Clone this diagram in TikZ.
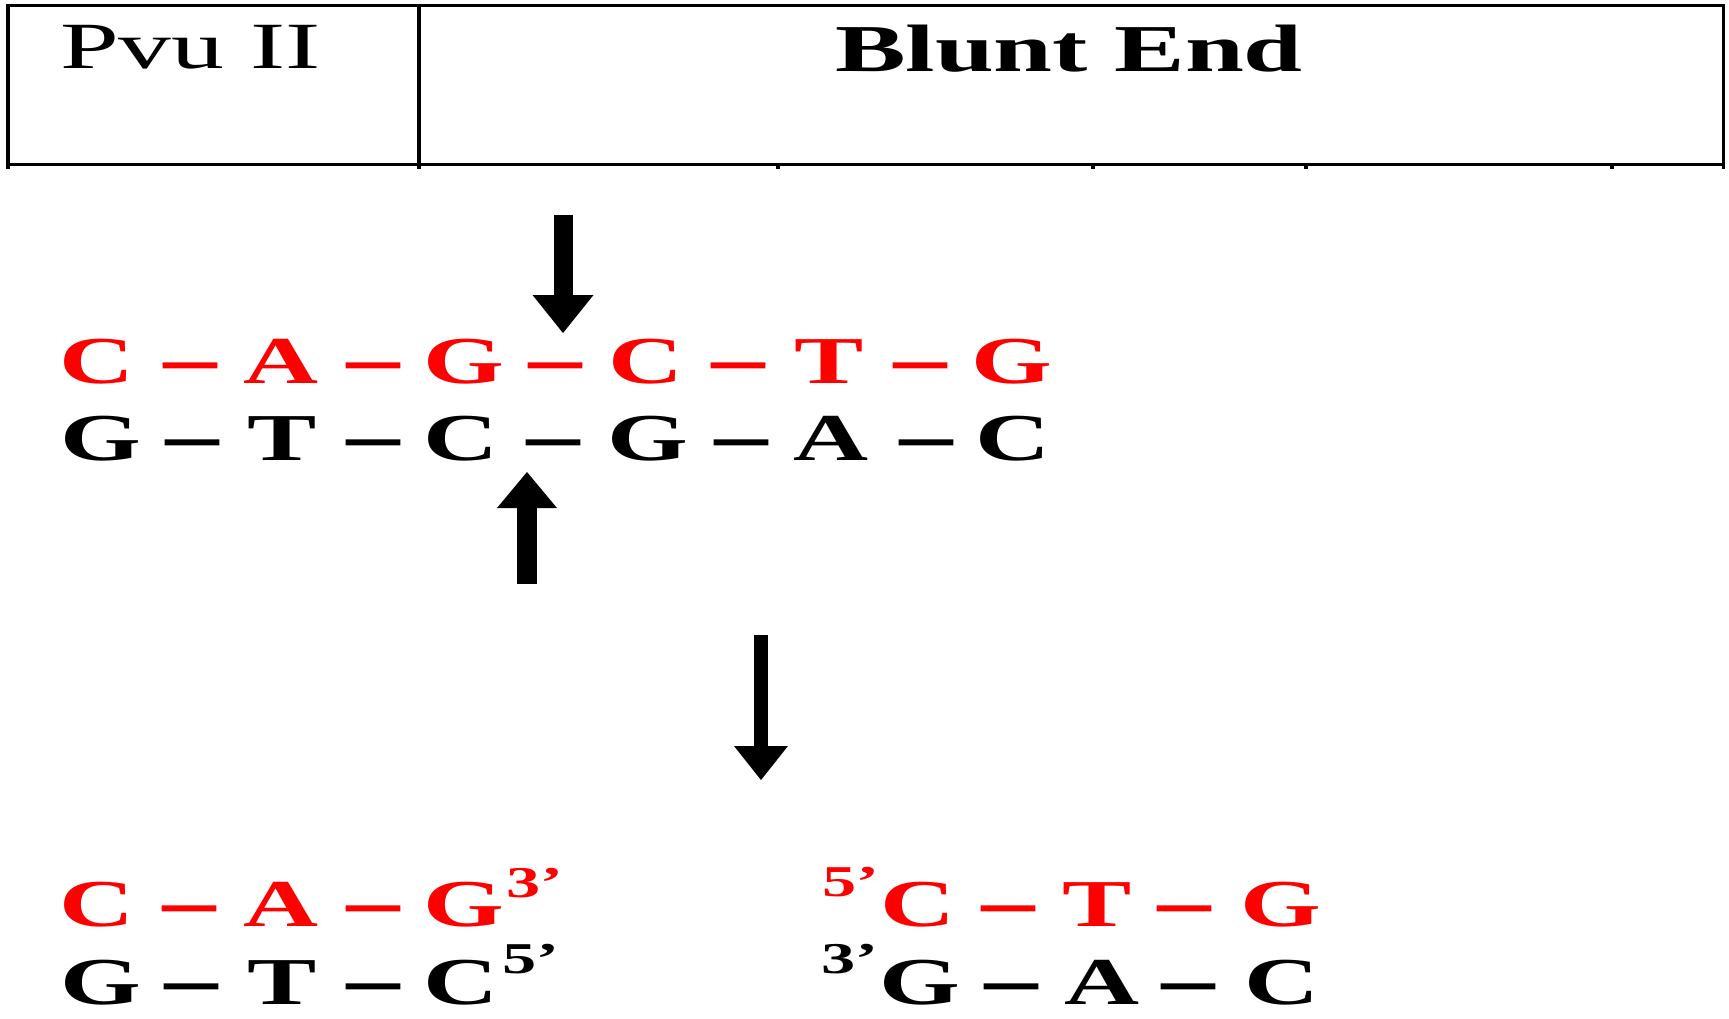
\documentclass[tikz,border=0pt]{standalone}
\usepackage{fontspec}
\setmainfont{Liberation Serif}
\newfontfamily\hdfont[FakeStretch=1.6]{Liberation Serif}
\newfontfamily\hdbfont[FakeStretch=1.58]{Liberation Serif}
\newfontfamily\seqfont[FakeStretch=1.55]{Liberation Serif}
\newfontfamily\dashfont[FakeStretch=1.55,FakeBold=2]{Liberation Serif}
\usetikzlibrary{calc}
\definecolor{seqred}{RGB}{255,0,0}
\begin{document}
\begin{tikzpicture}[x=1pt,y=-1pt,
  tbl/.style={line width=3.5pt},
  hd/.style={inner sep=0pt, font=\hdfont\fontsize{66}{66}\selectfont},
  hdb/.style={inner sep=0pt, font=\hdbfont\bfseries\fontsize{67}{67}\selectfont},
  seq/.style={inner sep=0pt, anchor=base, font=\seqfont\bfseries\fontsize{67}{67}\selectfont},
  rs/.style={seq, text=seqred},
  bs/.style={seq, text=black},
  dsh/.style={inner sep=0pt, anchor=base, font=\dashfont\bfseries\fontsize{67}{67}\selectfont},
  rdash/.style={dsh, text=seqred},
  bdash/.style={dsh, text=black},
  supsc/.style={inner sep=0pt, anchor=base west, font=\seqfont\bfseries\fontsize{44}{44}\selectfont},
  rsup/.style={supsc, text=seqred},
  bsup/.style={supsc, text=black},
]
\useasboundingbox (0,0) rectangle (1729,1018);

% header table
\draw[tbl] (8,5.5) rectangle (1723.5,164.5);
\draw[tbl] (419,5.5) -- (419,169);
\foreach \x in {8,778,1093,1306,1612,1723.5} \draw[tbl] (\x,164.5) -- (\x,169);
\node[hd, anchor=base west] (enz) at (60,68) {Pvu II};
\node[hdb, anchor=base] (typ) at (1069,71) {Blunt End};

% top double strand
\foreach \x/\t/\n in {97/C/r1,281/A/r2,464/G/r3,646/C/r4,829/T/r5,1012/G/r6}
  \node[rs] (\n) at (\x,383) {\t};
\foreach \x/\n in {190/rd1,373/rd2,555/rd3,738/rd4,920/rd5}
  \node[rdash] (\n) at (\x,381) {–};
\foreach \x/\t/\n in {101/G/b1,282/T/b2,461/C/b3,648/G/b4,831/A/b5,1013/C/b6}
  \node[bs] (\n) at (\x,460) {\t};
\foreach \x/\n in {192/bd1,373/bd2,553/bd3,741/bd4,926/bd5}
  \node[bdash] (\n) at (\x,458) {–};

% cut arrows
\coordinate (a1s) at (563,215); \coordinate (a1b) at (563,295); \coordinate (a1t) at (563,333);
\draw[line width=19pt] (a1s) -- ($(a1b)+(0,1)$);
\fill ($(a1b)+(-30.5,0)$) -- (a1t) -- ($(a1b)+(30.5,0)$) -- cycle;

\coordinate (a2s) at (527,584); \coordinate (a2b) at (527,508); \coordinate (a2t) at (527,472);
\draw[line width=20pt] (a2s) -- ($(a2b)+(0,-1)$);
\fill ($(a2b)+(-30,0)$) -- (a2t) -- ($(a2b)+(30,0)$) -- cycle;

\coordinate (a3s) at (761,635); \coordinate (a3b) at (761,746); \coordinate (a3t) at (761,780);
\draw[line width=14pt] (a3s) -- ($(a3b)+(0,1)$);
\fill ($(a3b)+(-27,0)$) -- (a3t) -- ($(a3b)+(27,0)$) -- cycle;

% products, left fragment
\foreach \x/\t/\n in {97/C/lr1,281/A/lr2,464/G/lr3}
  \node[rs] (\n) at (\x,926) {\t};
\foreach \x/\n in {189/lrd1,373/lrd2}
  \node[rdash] (\n) at (\x,924) {–};
\node[rsup] (lrs) at (506,897) {3’};
\foreach \x/\t/\n in {101/G/lb1,282/T/lb2,461/C/lb3}
  \node[bs] (\n) at (\x,1004) {\t};
\foreach \x/\n in {191/lbd1,373/lbd2}
  \node[bdash] (\n) at (\x,1002) {–};
\node[bsup] (lbs) at (502,973) {5’};

% products, right fragment
\node[rsup] (rrs) at (822,896) {5’};
\foreach \x/\t/\n in {918/C/rr1,1097/T/rr2,1281/G/rr3}
  \node[rs] (\n) at (\x,926) {\t};
\foreach \x/\n in {1008/rrd1,1184/rrd2}
  \node[rdash] (\n) at (\x,924) {–};
\node[bsup] (rbs) at (821,973) {3’};
\foreach \x/\t/\n in {920/G/rb1,1102/A/rb2,1282/C/rb3}
  \node[bs] (\n) at (\x,1004) {\t};
\foreach \x/\n in {1011/rbd1,1188/rbd2}
  \node[bdash] (\n) at (\x,1002) {–};
\end{tikzpicture}
\end{document}
